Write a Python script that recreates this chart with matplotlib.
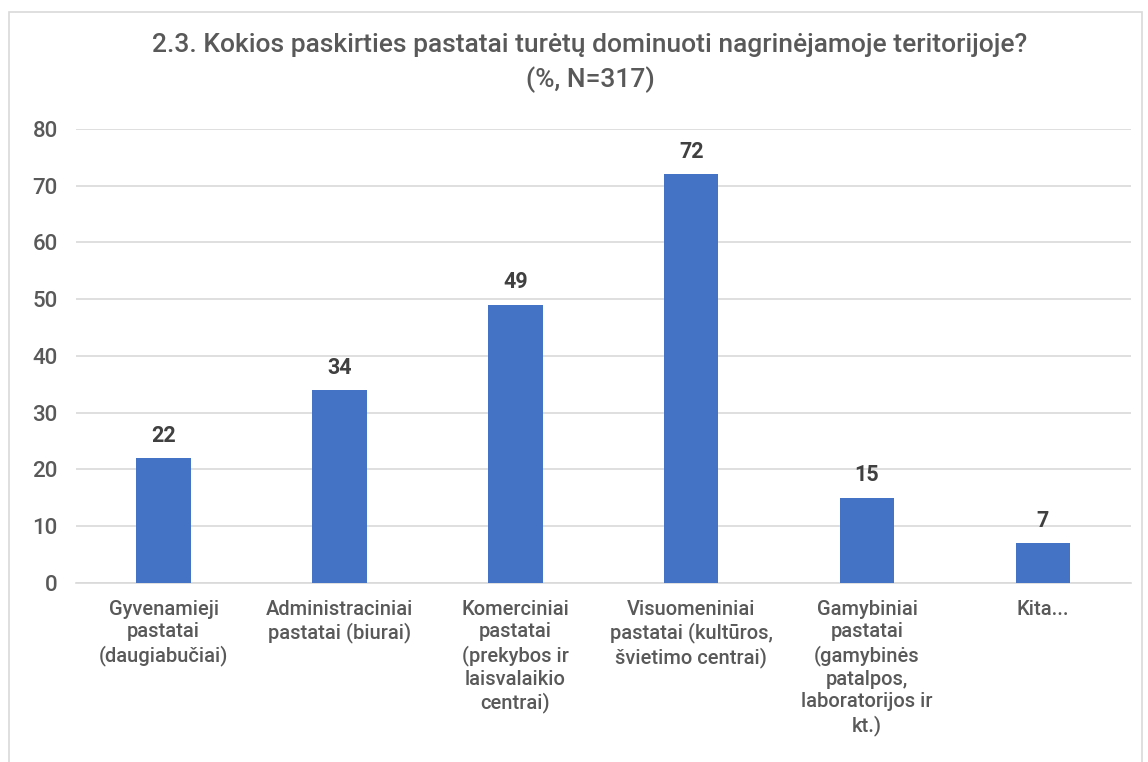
import numpy as np
import matplotlib.pyplot as plt
from matplotlib.patches import Rectangle

plt.rcParams['font.family'] = ['Roboto', 'DejaVu Sans']
plt.rcParams['font.weight'] = 'medium'

categories = ['Gyvenamieji\npastatai\n(daugiabučiai)',
              'Administraciniai\npastatai (biurai)',
              'Komerciniai\npastatai\n(prekybos ir\nlaisvalaikio\ncentrai)',
              'Visuomeniniai\npastatai (kultūros,\nšvietimo centrai)',
              'Gamybiniai\npastatai\n(gamybinės\npatalpos,\nlaboratorijos ir\nkt.)',
              'Kita...']
values = [22, 34, 49, 72, 15, 7]
yticks = [0, 10, 20, 30, 40, 50, 60, 70, 80]

text_color = '#595959'

fig = plt.figure(figsize=(11.48, 7.62), dpi=100)
ax = fig.add_axes([0.066, 0.235, 0.919, 0.596])

index = np.arange(len(values))
ax.bar(index, values, 0.31, color='#4472C4', zorder=3)

for i, v in enumerate(values):
    ax.text(i, v + 2.0, str(v), ha='center', va='bottom',
            fontsize=15.5, fontweight='bold', color='#404040')

ax.set_xlim(-0.5, len(values) - 0.5)
ax.set_ylim(0, 80)
ax.set_yticks(yticks)
ax.set_xticks(index)
ax.set_xticklabels(categories, fontsize=14.5, color=text_color, linespacing=1.24)
ax.tick_params(axis='y', labelsize=16, labelcolor=text_color, length=0, pad=13)
ax.tick_params(axis='x', length=0, pad=12)
ax.yaxis.grid(True, color='#D9D9D9', linewidth=1.2, zorder=0)
for s in ['top', 'right', 'left']:
    ax.spines[s].set_visible(False)
ax.spines['bottom'].set_color('#D9D9D9')
ax.spines['bottom'].set_linewidth(1.2)

fig.text(0.514, 0.941, '2.3. Kokios paskirties pastatai turėtų dominuoti nagrinėjamoje teritorijoje?',
         ha='center', va='center', fontsize=19, color=text_color)
fig.text(0.514, 0.895, '(%, N=317)', ha='center', va='center', fontsize=19, color=text_color)

# chart border
fig.patches.append(Rectangle((0.008, -0.01), 0.987, 0.994, transform=fig.transFigure,
                             fill=False, edgecolor='#D9D9D9', linewidth=1.2))

plt.savefig('out.png', dpi=100)
